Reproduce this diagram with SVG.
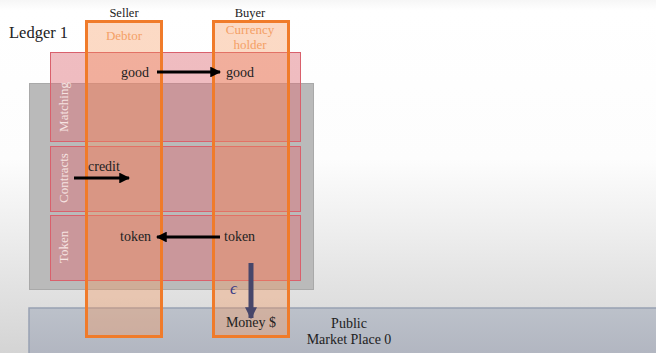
<svg xmlns="http://www.w3.org/2000/svg" width="656" height="353" viewBox="0 0 656 353">
  <defs>
    <linearGradient id="bg" x1="0" y1="0" x2="0" y2="1">
      <stop offset="0" stop-color="#f6f6f6"/>
      <stop offset="0.03" stop-color="#ffffff"/>
      <stop offset="0.45" stop-color="#fdfdfd"/>
      <stop offset="1" stop-color="#d4d4d4"/>
    </linearGradient>
    <linearGradient id="band" x1="0" y1="0" x2="0" y2="1">
      <stop offset="0" stop-color="#bcc1ca"/>
      <stop offset="1" stop-color="#b1b5c0"/>
    </linearGradient>
    <marker id="ah" viewBox="0 0 10 10" refX="9" refY="5" markerWidth="3.6" markerHeight="3.6" orient="auto">
      <path d="M0,0 L10,5 L0,10 z" fill="#000"/>
    </marker>
    <marker id="ahd" viewBox="0 0 10 10" refX="9" refY="5" markerWidth="2.4" markerHeight="2.4" orient="auto">
      <path d="M0,0 L10,5 L0,10 z" fill="#47466a"/>
    </marker>
  </defs>
  <style>
    text { font-family: "Liberation Serif", "Times New Roman", serif; fill: #222; }
    .row { fill: rgba(222,108,118,0.45); stroke: #d9606c; stroke-width: 1; }
    .col { fill: rgba(245,150,90,0.35); stroke: #f07b2a; stroke-width: 3; }
    .rowlabel { fill: #f6e4e2; font-size: 13px; text-anchor: middle; }
    .item { font-size: 14px; }
    .head { font-size: 12.5px; text-anchor: middle; }
    .role { fill: #f4a066; font-size: 13px; text-anchor: middle; }
    .flow { stroke: #000; stroke-width: 3; fill: none; marker-end: url(#ah); }
    .eps { fill: #3b3c86; font-size: 17px; font-style: italic; }
  </style>

  <!-- page -->
  <rect x="0" y="0" width="656" height="353" fill="url(#bg)"/>

  <!-- public market band -->
  <g id="market">
    <rect x="29" y="308" width="640" height="50" fill="url(#band)" stroke="#98a1b3" stroke-width="1.5"/>
    <text x="349" y="328" font-size="14" text-anchor="middle">Public</text>
    <text x="349" y="344" font-size="14" text-anchor="middle">Market Place 0</text>
  </g>

  <!-- ledger panel -->
  <g id="ledger">
    <rect x="29.5" y="83.5" width="284" height="206" fill="#bababa" stroke="#a9a9a9" stroke-width="1"/>
    <text x="9" y="38" font-size="16.5">Ledger 1</text>
  </g>

  <!-- layers -->
  <g id="matching">
    <rect class="row" x="50.5" y="52.5" width="250" height="89"/>
    <text class="rowlabel" transform="translate(68,107) rotate(-90)">Matching</text>
  </g>
  <g id="contracts">
    <rect class="row" x="50.5" y="146.5" width="250" height="65"/>
    <text class="rowlabel" transform="translate(68,178) rotate(-90)">Contracts</text>
  </g>
  <g id="token">
    <rect class="row" x="50.5" y="215.5" width="250" height="65"/>
    <text class="rowlabel" transform="translate(68,247) rotate(-90)">Token</text>
  </g>

  <!-- parties -->
  <g id="seller">
    <rect class="col" x="86.5" y="21.5" width="75" height="315"/>
    <text class="head" x="124" y="17">Seller</text>
    <text class="role" x="124" y="40">Debtor</text>
  </g>
  <g id="buyer">
    <rect class="col" x="213.5" y="21.5" width="75" height="315"/>
    <text class="head" x="250" y="17">Buyer</text>
    <text class="role" x="250" y="34">Currency</text>
    <text class="role" x="250" y="49">holder</text>
  </g>

  <!-- items -->
  <g id="items">
    <text class="item" x="121" y="77">good</text>
    <text class="item" x="226" y="77">good</text>
    <text class="item" x="88" y="171">credit</text>
    <text class="item" x="120" y="241">token</text>
    <text class="item" x="224" y="241">token</text>
    <text class="eps" x="230" y="294">ϵ</text>
    <text class="item" x="251" y="327" text-anchor="middle">Money $</text>
  </g>

  <!-- connectors -->
  <g id="connectors">
    <line class="flow" x1="157" y1="72" x2="220" y2="72"/>
    <line class="flow" x1="74" y1="178" x2="129" y2="178"/>
    <line class="flow" x1="220" y1="237" x2="157" y2="237"/>
    <line x1="251" y1="263" x2="251" y2="318" stroke="#47466a" stroke-width="5" marker-end="url(#ahd)"/>
  </g>
</svg>
